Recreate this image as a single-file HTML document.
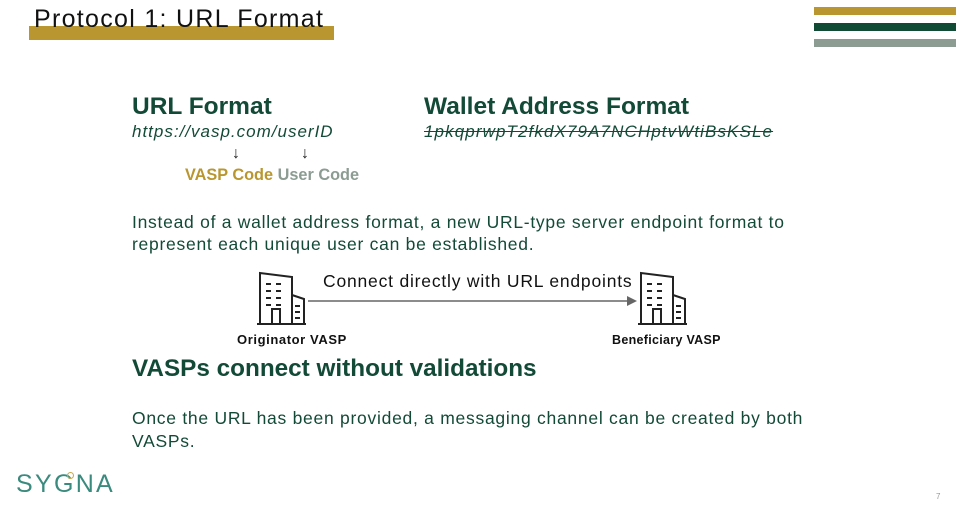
<!DOCTYPE html>
<html><head><meta charset="utf-8"><style>
body{margin:0;width:956px;height:508px;background:#fff;position:relative;overflow:hidden;font-family:"Liberation Sans",sans-serif;color:#134a37}
.a{position:absolute;white-space:nowrap}
</style></head><body>
<div class="a" style="left:29px;top:26px;width:305px;height:14px;background:#b9962f"></div>
<div class="a" style="left:34px;top:5px;font-size:25px;color:#111;font-weight:300;letter-spacing:1.3px">Protocol 1: URL Format</div>
<div class="a" style="left:814px;top:7px;width:142px;height:8px;background:#b9962f"></div>
<div class="a" style="left:814px;top:23px;width:142px;height:8px;background:#114a35"></div>
<div class="a" style="left:814px;top:39px;width:142px;height:8px;background:#8c9c93"></div>

<div class="a" style="left:132px;top:93px;font-size:24.5px;font-weight:bold">URL Format</div>
<div class="a" style="left:132px;top:122px;font-size:17px;font-style:italic;letter-spacing:1px">https://vasp.com/userID</div>
<div class="a" style="left:232px;top:145px;font-size:16px;color:#222">↓</div>
<div class="a" style="left:301px;top:145px;font-size:16px;color:#222">↓</div>
<div class="a" style="left:185px;top:166px;font-size:16.3px;font-weight:bold;color:#b9962f">VASP Code <span style="color:#8c9c93">User Code</span></div>

<div class="a" style="left:424px;top:93px;font-size:24.5px;font-weight:bold">Wallet Address Format</div>
<div class="a" style="left:424px;top:122px;font-size:17px;font-style:italic;text-decoration:line-through;letter-spacing:1.1px">1pkqprwpT2fkdX79A7NCHptvWtiBsKSLe</div>

<div class="a" style="left:132px;top:211px;font-size:17.5px;line-height:22px;letter-spacing:0.73px">Instead of a wallet address format, a new URL-type server endpoint format to<br>represent each unique user can be established.</div>

<svg class="a" style="left:230px;top:260px" width="500" height="90" viewBox="0 0 500 90">
<defs><g id="b" fill="none" stroke="#222" stroke-width="2">
<path d="M0 53 V2 L32 6 V53 M32 24 L44 28 V53 M-3 53 H46"/>
<path d="M12 53 V38 H20 V53"/>
<path d="M6 13h5M16 13h5M6 20h5M16 20h5M6 27h5M16 27h5M6 34h5M16 34h5M35 35h5M35 41h5M35 47h5"/>
</g></defs>
<use href="#b" x="30" y="11"/>
<use href="#b" x="411" y="11"/>
<line x1="78" y1="41" x2="398" y2="41" stroke="#666" stroke-width="1.5"/>
<path d="M397 36 L407 41 L397 46Z" fill="#666"/>
<text x="93" y="27" font-size="17.5" letter-spacing="0.8" fill="#111" font-family="Liberation Sans">Connect directly with URL endpoints</text>
<text x="7" y="84" font-size="13" letter-spacing="0.6" font-weight="bold" fill="#111" font-family="Liberation Sans">Originator VASP</text>
<text x="382" y="84" font-size="12.5" letter-spacing="0.3" font-weight="bold" fill="#111" font-family="Liberation Sans">Beneficiary VASP</text>
</svg>

<div class="a" style="left:132px;top:355px;font-size:24.3px;font-weight:bold">VASPs connect without validations</div>
<div class="a" style="left:132px;top:407px;font-size:17.5px;line-height:23px;letter-spacing:0.73px">Once the URL has been provided, a messaging channel can be created by both<br>VASPs.</div>

<div class="a" style="left:16px;top:470px;font-size:25px;color:#3a8a7e;font-weight:300;letter-spacing:2.3px">SYGNA</div>
<div class="a" style="left:67px;top:472px;width:5px;height:5px;border:1.5px solid #c9a94a;border-radius:50%"></div>
<div class="a" style="left:936px;top:492px;font-size:8px;color:#999">7</div>
</body></html>
